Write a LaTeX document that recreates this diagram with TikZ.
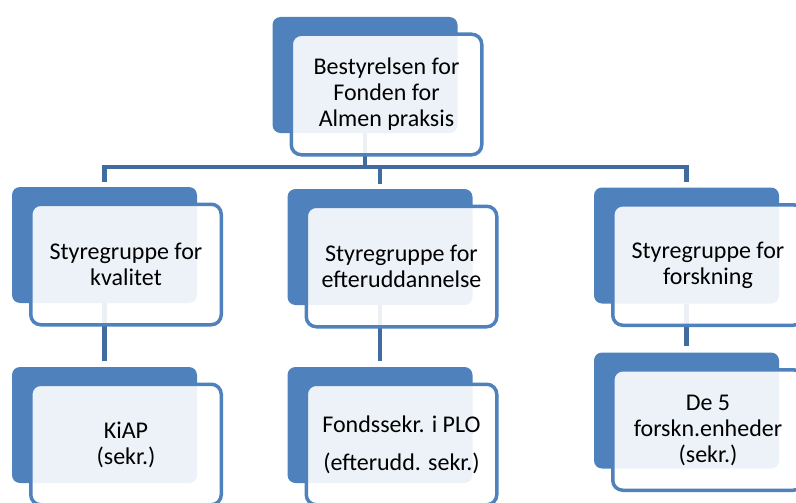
\documentclass[tikz,border=0pt]{standalone}
\usepackage{fontspec}
\setmainfont{Carlito}
\usepackage{tikz}
\usetikzlibrary{positioning}
\definecolor{boxblue}{RGB}{79,129,189}
\definecolor{lineblue}{RGB}{64,108,160}
\tikzset{
  font={\fontsize{24pt}{26pt}\selectfont},
  backbox/.style={fill=boxblue, rounded corners=8pt, inner sep=0pt,
    minimum width=185pt, minimum height=116pt},
  frontbox/.style={draw=boxblue, line width=3.5pt, fill=white, fill opacity=0.9,
    text opacity=1, rounded corners=10pt, inner sep=0pt, align=center,
    minimum width=190.5pt, minimum height=120.5pt},
  conn/.style={draw=lineblue, line width=4.5pt}}

\begin{document}
\begin{tikzpicture}[x=1pt,y=-1pt]
\useasboundingbox (0,0) rectangle (796,503);
\clip (0,0) rectangle (796,503);
% back boxes
\node[backbox] (topb) at (365,75) {};
\node[backbox] (kvalb) at (104.5,245) {};
\node[backbox] (eftb) at (380,247) {};
\node[backbox] (forskb) at (686.5,245.5) {};
\node[backbox] (kiapb) at (104.5,425) {};
\node[backbox] (fondsb) at (380,425) {};
\node[backbox] (enhb) at (686.5,410.5) {};
% connectors
\coordinate (split) at ([yshift=-34pt]topb.south);
\draw[conn] (topb.south) -- (split);
\draw[conn, shorten >=5pt] (split) -| (kvalb.north);
\draw[conn, shorten >=5pt] (split) -| (eftb.north);
\draw[conn, shorten >=5pt] (split) -| (forskb.north);
\draw[conn, shorten >=6pt] (kvalb.south) -- (kiapb.north);
\draw[conn, shorten >=6pt] (eftb.south) -- (fondsb.north);
\draw[conn, shorten >=6pt] (forskb.south) -- (enhb.north);
% front boxes
\node[frontbox] (top) at ([shift={(21.5,19.5)}]topb.center) {Bestyrelsen for\\Fonden for\\Almen praksis};
\node[frontbox] (kval) at ([shift={(21.5,19.5)}]kvalb.center) {Styregruppe for\\kvalitet};
\node[frontbox] (eft) at ([shift={(21.5,19.5)}]eftb.center) {Styregruppe for\\efteruddannelse};
\node[frontbox] (forsk) at ([shift={(21.5,19.5)}]forskb.center) {Styregruppe for\\forskning};
\node[frontbox] (kiap) at ([shift={(21.5,19.5)}]kiapb.center) {KiAP\\(sekr.)};
\node[frontbox] (fonds) at ([shift={(21.5,19.5)}]fondsb.center) {Fondssekr. i PLO\\[12pt](efterudd. sekr.)};
\node[frontbox] (enh) at ([shift={(21.5,19.5)}]enhb.center) {De 5\\forskn.enheder\\(sekr.)};
\end{tikzpicture}
\end{document}
